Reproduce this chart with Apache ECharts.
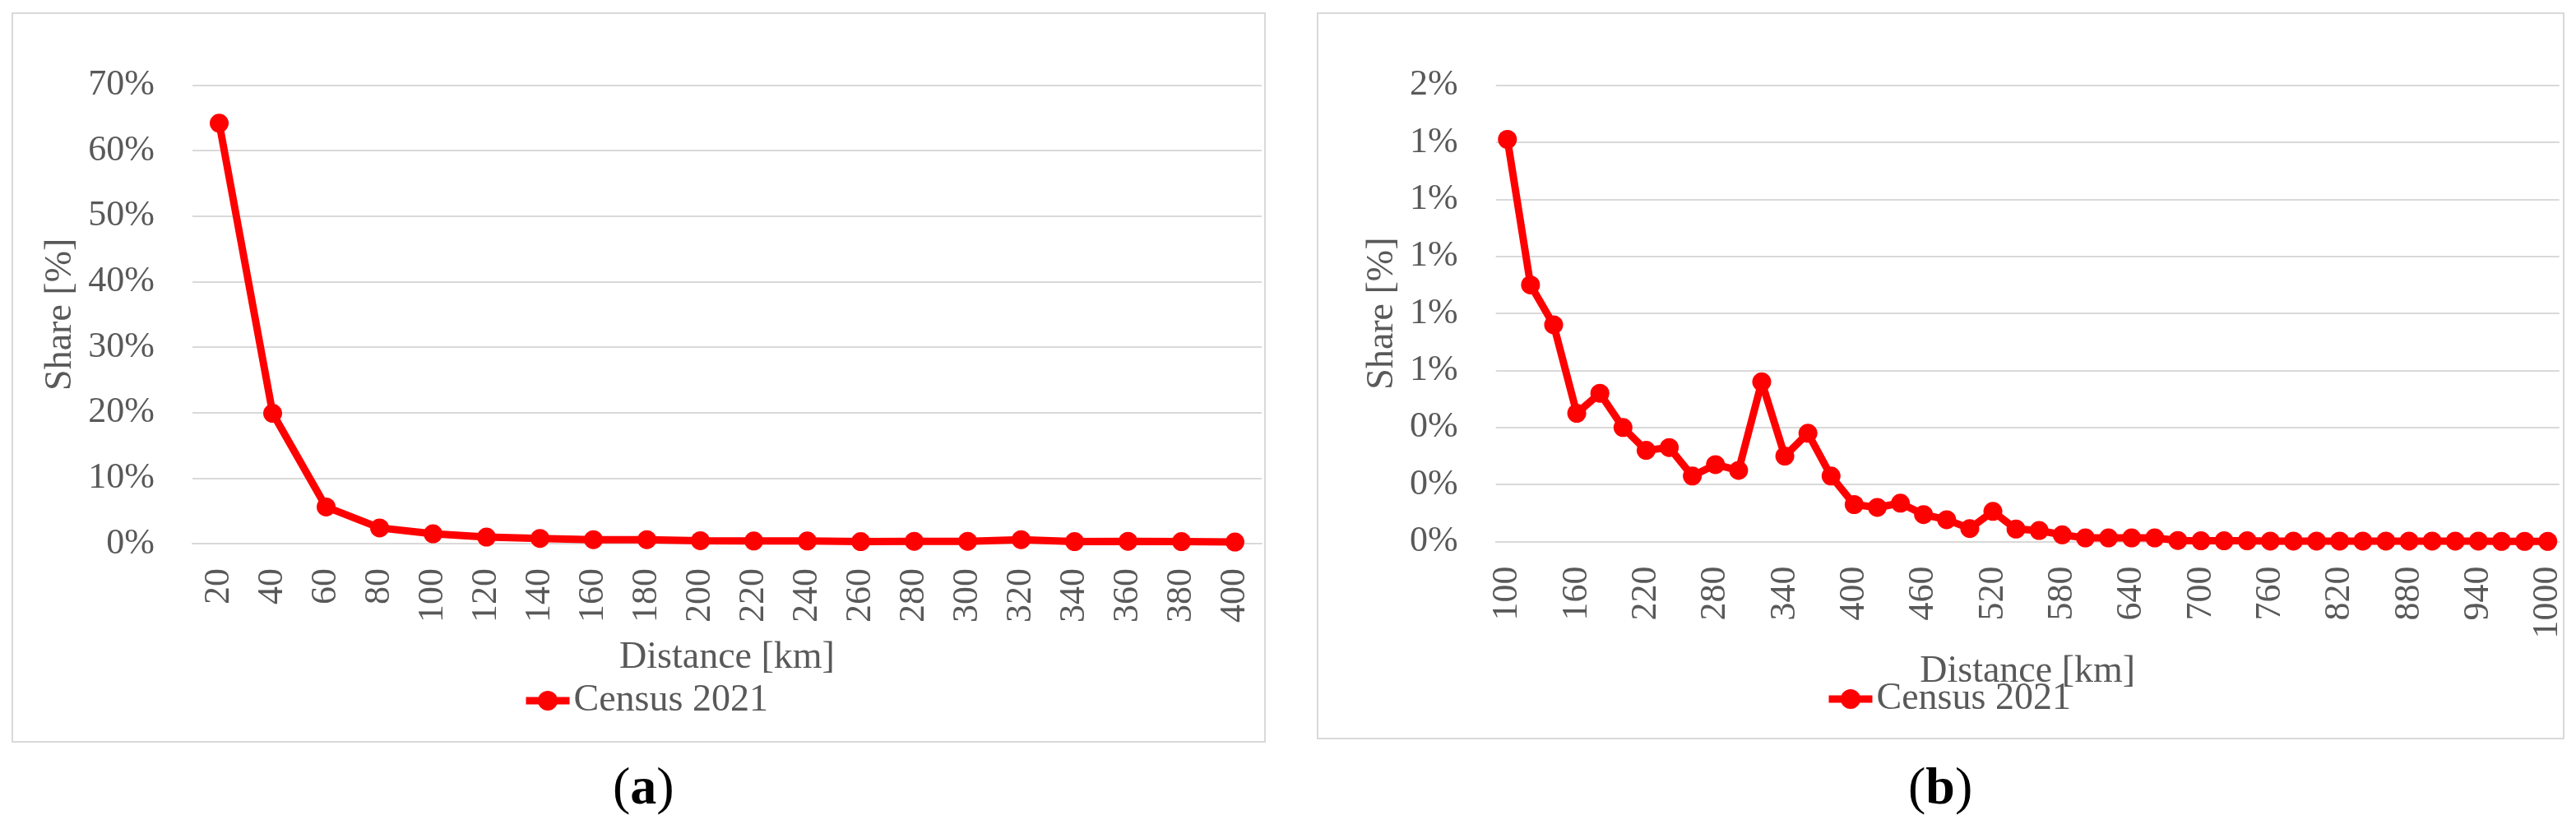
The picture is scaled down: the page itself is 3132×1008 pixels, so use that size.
<!DOCTYPE html>
<html lang="en">
<head>
    <meta charset="UTF-8">
    <title>Share by distance</title>
    <script src="https://cdn.jsdelivr.net/npm/echarts/dist/echarts.min.js"></script>
    <style>
        body { margin: 0; background: #fff; }
        #chart { width: 3132px; height: 1008px; }
    </style>
</head>
<body>
    <div id="chart"></div>

    <script type="text/javascript">
        // (a) 20..400 km, share in %
        var distA = ['20', '40', '60', '80', '100', '120', '140', '160', '180', '200',
                     '220', '240', '260', '280', '300', '320', '340', '360', '380', '400'];
        var shareA = [64.2, 19.9, 5.6, 2.4, 1.5, 1.0, 0.8, 0.6, 0.6, 0.45,
                      0.4, 0.4, 0.3, 0.35, 0.35, 0.6, 0.3, 0.35, 0.3, 0.25];

        // (b) 100..1000 km, share in %
        var distB = [];
        for (var d = 100; d <= 1000; d += 20) distB.push(String(d));
        var shareB = [1.41, 0.90, 0.76, 0.45, 0.52, 0.40, 0.32, 0.33, 0.23, 0.27,
                      0.25, 0.56, 0.30, 0.38, 0.23, 0.13, 0.12, 0.135, 0.095, 0.077,
                      0.046, 0.106, 0.044, 0.039, 0.024, 0.013, 0.013, 0.013, 0.013, 0.004,
                      0.003, 0.003, 0.003, 0.002, 0.002, 0.002, 0.002, 0.002, 0.002, 0.002,
                      0.002, 0.002, 0.002, 0.001, 0.001, 0.001];

        var seriesName = 'Census 2021';
        var font = 'Liberation Serif';
        var grey = '#595959';
        var gridGrey = '#d9d9d9';

        function xAxisFor(idx, data, labelInterval, nameGap) {
            return {
                type: 'category',
                gridIndex: idx,
                data: data,
                boundaryGap: true,
                name: 'Distance [km]',
                nameLocation: 'middle',
                nameGap: nameGap,
                nameTextStyle: { fontFamily: font, fontSize: 46, color: grey },
                axisLine: { lineStyle: { color: gridGrey, width: 2 } },
                axisTick: { show: false },
                axisLabel: {
                    rotate: 90,
                    interval: labelInterval,
                    margin: 30,
                    fontFamily: font,
                    fontSize: 44,
                    color: grey
                }
            };
        }

        function yAxisFor(idx, max, interval, nameGap) {
            return {
                type: 'value',
                gridIndex: idx,
                min: 0,
                max: max,
                interval: interval,
                name: 'Share [%]',
                nameLocation: 'middle',
                nameGap: nameGap,
                nameTextStyle: { fontFamily: font, fontSize: 46, color: grey },
                axisLine: { show: false },
                axisTick: { show: false },
                splitLine: { lineStyle: { color: gridGrey, width: 2 } },
                axisLabel: {
                    margin: 46,
                    fontFamily: font,
                    fontSize: 44,
                    color: grey,
                    formatter: function (v) { return Math.round(v) + '%'; }
                }
            };
        }

        function lineSeries(idx, data) {
            return {
                name: seriesName,
                type: 'line',
                xAxisIndex: idx,
                yAxisIndex: idx,
                data: data,
                symbol: 'circle',
                symbolSize: 23,
                showAllSymbol: true,
                color: '#ff0000',
                lineStyle: { color: '#ff0000', width: 9 },
                itemStyle: { color: '#ff0000' },
                animation: false
            };
        }

        function legendFor(left, top) {
            return {
                data: [seriesName],
                left: left,
                top: top,
                itemWidth: 53,
                itemHeight: 30,
                lineStyle: { width: 9 },
                textStyle: { fontFamily: font, fontSize: 46, color: grey },
                selectedMode: false
            };
        }

        var chart = echarts.init(document.getElementById('chart'));
        chart.setOption({
            backgroundColor: '#ffffff',
            animation: false,
            grid: [
                { left: 234, top: 103.6, width: 1300, height: 557.4 },
                { left: 1818.7, top: 103.6, width: 1293, height: 555 }
            ],
            xAxis: [xAxisFor(0, distA, 0, 116), xAxisFor(1, distB, 2, 135)],
            yAxis: [yAxisFor(0, 70, 10, 137), yAxisFor(1, 1.6, 0.2, 115)],
            legend: [legendFor(630, 824), legendFor(2214, 822)],
            series: [lineSeries(0, shareA), lineSeries(1, shareB)],
            graphic: [
                {
                    type: 'rect', silent: true, z: -1,
                    shape: { x: 15, y: 16, width: 1523, height: 886 },
                    style: { fill: null, stroke: gridGrey, lineWidth: 2 }
                },
                {
                    type: 'rect', silent: true, z: -1,
                    shape: { x: 1602, y: 16, width: 1515, height: 882 },
                    style: { fill: null, stroke: gridGrey, lineWidth: 2 }
                },
                {
                    type: 'text', left: 783 - 38, top: 928,
                    style: {
                        text: '{p|(}{b|a}{p|)}',
                        rich: {
                            p: { fontFamily: font, fontSize: 64, fill: '#000' },
                            b: { fontFamily: font, fontSize: 64, fontWeight: 'bold', fill: '#000' }
                        }
                    }
                },
                {
                    type: 'text', left: 2360 - 40, top: 928,
                    style: {
                        text: '{p|(}{b|b}{p|)}',
                        rich: {
                            p: { fontFamily: font, fontSize: 64, fill: '#000' },
                            b: { fontFamily: font, fontSize: 64, fontWeight: 'bold', fill: '#000' }
                        }
                    }
                }
            ]
        });
    </script>
</body>
</html>
